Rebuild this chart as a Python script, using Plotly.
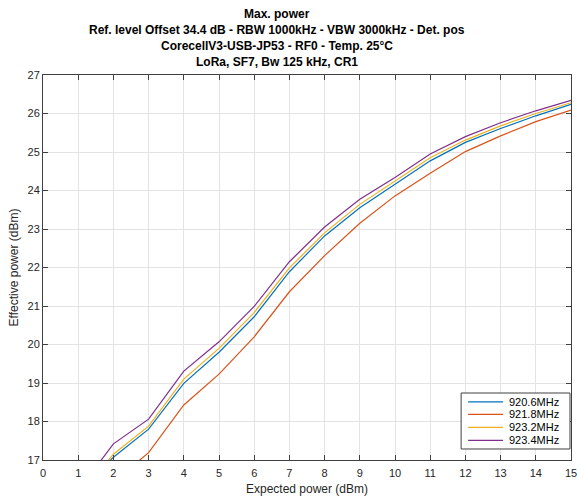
import plotly.graph_objects as go

# Expected (set) power in dBm
expected = [1, 2, 3, 4, 5, 6, 7, 8, 9, 10, 11, 12, 13, 14, 15]

# Measured effective power (dBm) per channel
p_920_6 = [16.15, 17.07, 17.80, 18.99, 19.80, 20.72, 21.89, 22.82, 23.55, 24.17, 24.77, 25.25, 25.61, 25.94, 26.24]
p_921_8 = [15.60, 16.43, 17.19, 18.43, 19.23, 20.20, 21.37, 22.31, 23.15, 23.86, 24.45, 25.01, 25.42, 25.79, 26.09]
p_923_2 = [16.05, 17.15, 17.88, 19.10, 19.90, 20.83, 21.99, 22.90, 23.64, 24.25, 24.85, 25.31, 25.68, 26.00, 26.28]
p_923_4 = [16.20, 17.42, 18.06, 19.31, 20.07, 20.99, 22.15, 23.05, 23.77, 24.34, 24.95, 25.40, 25.76, 26.07, 26.34]

series_names = ["920.6MHz", "921.8MHz", "923.2MHz", "923.4MHz"]
series_values = [p_920_6, p_921_8, p_923_2, p_923_4]
series_colors = ["#0072BD", "#D95319", "#EDB120", "#7E2F8E"]

x_ticks = list(range(0, 16))
y_ticks = list(range(17, 28))

title_lines = [
    "Max. power",
    "Ref. level Offset 34.4 dB - RBW 1000kHz - VBW 3000kHz - Det. pos",
    "CorecellV3-USB-JP53 - RF0 - Temp. 25\u00b0C",
    "LoRa, SF7, Bw 125 kHz, CR1",
]

FONT = "Liberation Sans, Arial, sans-serif"
AXIS_COLOR = "#404040"
GRID_COLOR = "#e3e3e3"
LINE_W = 1.2

fig = go.Figure()
for name, vals, col in zip(series_names, series_values, series_colors):
    fig.add_trace(go.Scatter(x=expected, y=vals, mode="lines", name=name,
                             line=dict(color=col, width=LINE_W), showlegend=False))

axis_common = dict(
    showline=True, linecolor=AXIS_COLOR, linewidth=1, mirror="ticks",
    ticks="inside", ticklen=5, tickcolor=AXIS_COLOR, tickwidth=1,
    showgrid=True, gridcolor=GRID_COLOR, gridwidth=1, zeroline=False,
    ticklabeloverflow="allow", automargin=False,
    tickfont=dict(family=FONT, size=11, color="#262626"),
)

fig.update_xaxes(range=[0, 15], tickvals=x_ticks, ticktext=[str(v) for v in x_ticks],
                 ticklabelstandoff=3,
                 title=dict(text="Expected power (dBm)", standoff=6,
                            font=dict(family=FONT, size=12, color="#262626")),
                 **axis_common)
fig.update_yaxes(range=[17, 27], tickvals=y_ticks, ticktext=[str(v) for v in y_ticks],
                 title=dict(text="Effective power (dBm)", standoff=6,
                            font=dict(family=FONT, size=12, color="#262626")),
                 **axis_common)

# Title block: four bold centred lines above the axes
title_y = [1.1584, 1.1169, 1.0753, 1.0338]
for line, ty in zip(title_lines, title_y):
    fig.add_annotation(xref="paper", yref="paper", x=0.4432, y=ty, text=f"<b>{line}</b>",
                       showarrow=False, xanchor="center", yanchor="middle",
                       font=dict(family=FONT, size=12, color="#000000"))

# Legend box drawn in paper coordinates at the lower right of the axes
lx0, lx1, ly0, ly1 = 0.7919, 0.9981, 0.0286, 0.174
fig.add_shape(type="rect", xref="paper", yref="paper", x0=lx0, x1=lx1, y0=ly0, y1=ly1,
              line=dict(color=AXIS_COLOR, width=1), fillcolor="white", layer="above")
row_y = [0.1510, 0.1185, 0.0848, 0.0510]
for name, col, ry in zip(series_names, series_colors, row_y):
    fig.add_shape(type="line", xref="paper", yref="paper", x0=0.8052, x1=0.8714, y0=ry, y1=ry,
                  line=dict(color=col, width=LINE_W), layer="above")
    fig.add_annotation(xref="paper", yref="paper", x=0.8789, y=ry, text=name, showarrow=False,
                       xanchor="left", yanchor="middle",
                       font=dict(family=FONT, size=11, color="#000000"))

fig.update_layout(
    width=577, height=498,
    margin=dict(l=43, r=6, t=75, b=38),
    paper_bgcolor="white", plot_bgcolor="white",
)

fig.write_html("out.html")
